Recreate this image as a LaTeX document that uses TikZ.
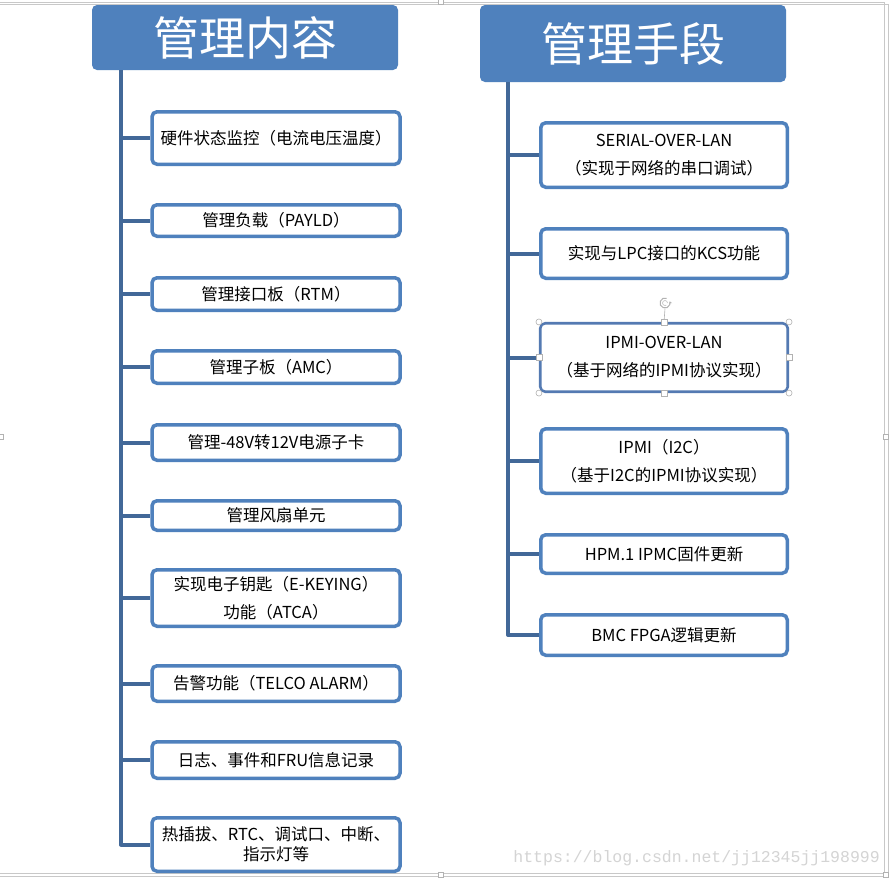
\documentclass[tikz,border=0pt]{standalone}
\usepackage{fontspec}
\usetikzlibrary{arrows.meta}
\setmainfont{Noto Sans CJK SC}
\newfontfamily\wmfont{Liberation Mono}
\definecolor{hdrblue}{RGB}{79,129,189}
\definecolor{boxblue}{RGB}{79,129,189}
\definecolor{linkblue}{RGB}{66,104,152}
\definecolor{framegray}{RGB}{200,200,200}
\definecolor{wmgray}{RGB}{212,212,212}
\tikzset{
  hdr/.style={fill=hdrblue, rounded corners=5pt, inner sep=0pt, text=white,
    font=\fontsize{46}{50}\selectfont},
  itembox/.style={draw=boxblue, line width=3.5pt, rounded corners=5pt, fill=white,
    inner sep=0pt, minimum width=248pt, align=center, text=black,
    font=\fontsize{16.5}{28}\selectfont},
  selbox/.style={itembox, line width=2.6pt, draw={rgb,255:red,84;green,122;blue,178}},
  link/.style={draw=linkblue, line width=4pt, line join=round},
  hcirc/.style={circle, draw=gray!60, fill=white, inner sep=0pt, minimum size=6pt, line width=0.6pt},
  hsq/.style={rectangle, draw=gray!60, fill=white, inner sep=0pt, minimum size=6pt, line width=0.6pt},
  fline/.style={draw=framegray, line width=0.8pt},
}
\begin{document}
\begin{tikzpicture}[x=1pt, y=-1pt]
\useasboundingbox[fill=white] (0,0) rectangle (891,879);
% outer frame
\draw[fline] (0,2) -- (884,2) -- (884,873) -- (0,873);
\draw[fline] (0,4) -- (888,4);
\draw[fline] (888,4) -- (888,876) -- (0,876);
\node[hsq, minimum size=5pt] (f1) at (441,2) {};
\node[hsq, minimum size=5pt] (f2) at (886,437) {};
\node[hsq, minimum size=5pt] (f3) at (441,875) {};
\node[hsq, minimum size=5pt] (f4) at (1,437) {};
\node[hsq, minimum size=5pt] (f5) at (886,875) {};

% headers
\node[hdr, minimum width=306pt, minimum height=65pt] (hl) at (245,37.5) {\raisebox{2pt}{管理内容}};
\node[hdr, minimum width=306pt, minimum height=77pt] (hr) at (633,43.5) {\raisebox{2pt}{管理手段}};

\coordinate (lx) at (121,0);
\coordinate (rx) at (508,0);

% left column
\node[itembox, minimum height=52.5pt] (l1) at (276,138) {硬件状态监控（电流电压温度）};
\node[itembox, minimum height=31.5pt] (l2) at (276,220.5) {管理负载（PAYLD）};
\node[itembox, minimum height=32.5pt] (l3) at (276,294) {管理接口板（RTM）};
\node[itembox, minimum height=32.5pt] (l4) at (276,367) {管理子板（AMC）};
\node[itembox, minimum height=35.5pt] (l5) at (276,442.5) {管理-48V转12V电源子卡};
\node[itembox, minimum height=29.5pt] (l6) at (276,515.5) {管理风扇单元};
\node[itembox, minimum height=56.5pt] (l7) at (276,598) {实现电子钥匙（E-KEYING）\\功能（ATCA）};
\node[itembox, minimum height=35.5pt] (l8) at (276,683.5) {告警功能（TELCO ALARM）};
\node[itembox, minimum height=36.5pt] (l9) at (276,760) {日志、事件和FRU信息记录};
\node[itembox, minimum height=53.5pt, font=\fontsize{16.5}{20}\selectfont] (l10) at (276,844.5) {热插拔、RTC、调试口、中断、\\指示灯等};

% right column
\node[itembox, minimum width=246.5pt, minimum height=64.5pt] (r1) at (664,155) {SERIAL-OVER-LAN\\（实现于网络的串口调试）};
\node[itembox, minimum width=246.5pt, minimum height=49.5pt] (r2) at (664,253.5) {实现与LPC接口的KCS功能};
\node[selbox, minimum width=247.5pt, minimum height=68.5pt] (r3) at (664,357.5) {IPMI-OVER-LAN\\（基于网络的IPMI协议实现）};
\node[itembox, minimum width=246.5pt, minimum height=64.5pt] (r4) at (664,461) {IPMI（I2C）\\（基于I2C的IPMI协议实现）};
\node[itembox, minimum width=246.5pt, minimum height=38.5pt] (r5) at (664,554) {HPM.1 IPMC固件更新};
\node[itembox, minimum width=246.5pt, minimum height=40.5pt] (r6) at (664,635) {BMC FPGA逻辑更新};

% left connectors
\draw[link] (hl.south -| lx) -- (lx |- l10.west) -- (l10.west);
\foreach \n in {l1,l2,l3,l4,l5,l6,l7,l8,l9}
  \draw[link] (lx |- \n.west) -- (\n.west);

% right connectors
\draw[link] (hr.south -| rx) -- (rx |- r6.west) -- (r6.west);
\foreach \n in {r1,r2,r3,r4,r5}
  \draw[link] (rx |- \n.west) -- (\n.west);

% selection handles on r3
\coordinate (rot) at (665,303);
\draw[gray!60, line width=0.6pt] (rot) ++(0,5.5) -- (r3.north);
\draw[gray!60, line width=1pt, -{Stealth[length=2.5pt,width=3pt]}] ([shift={(rot)}]70:5pt) arc (70:380:5pt);
\draw[gray!50, line width=0.6pt] ([shift={(rot)}]0:2.5pt) arc (0:300:2.5pt);
\node[hcirc] (h1) at (r3.north west) {};
\node[hcirc] (h2) at (r3.north east) {};
\node[hcirc] (h3) at (r3.south west) {};
\node[hcirc] (h4) at (r3.south east) {};
\node[hsq] (h5) at (r3.north) {};
\node[hsq] (h6) at (r3.south) {};
\node[hsq] (h7) at (r3.west) {};
\node[hsq] (h8) at (r3.east) {};

% watermark
\node[anchor=east, text=wmgray, font=\wmfont\fontsize{16.5}{18}\selectfont, inner sep=0pt] (wm) at (880,858) {https://blog.csdn.net/jj12345jj198999};
\end{tikzpicture}
\end{document}
